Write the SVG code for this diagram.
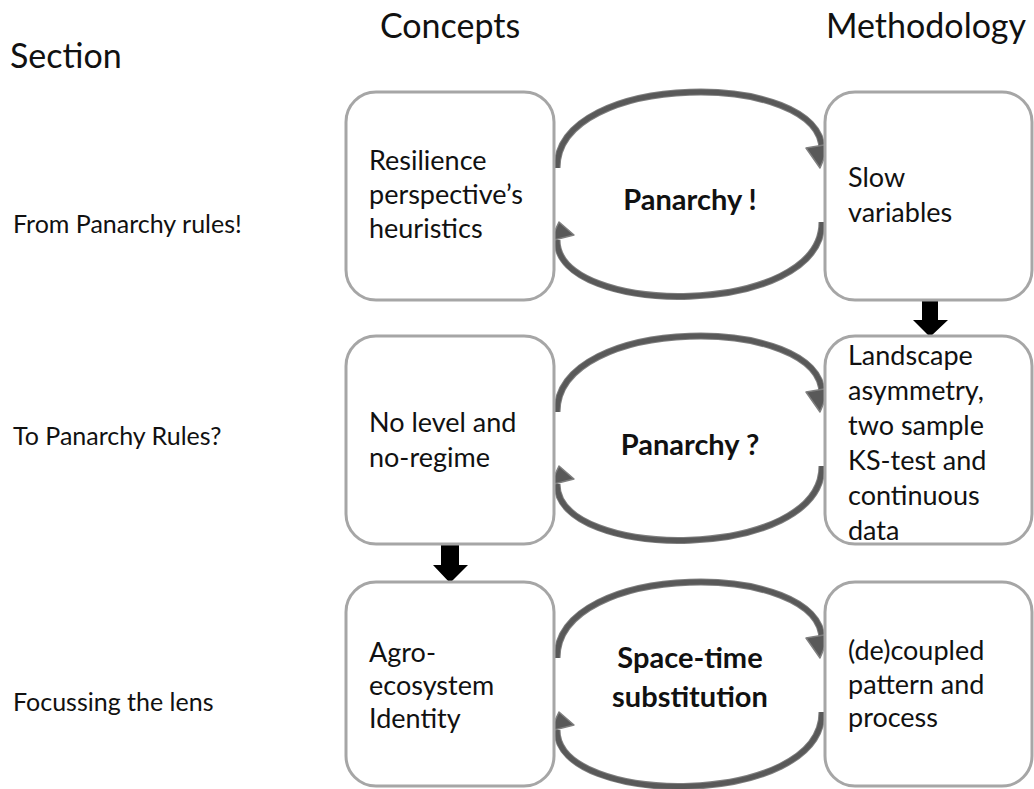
<svg xmlns="http://www.w3.org/2000/svg" width="1034" height="789" viewBox="0 0 1034 789">
<style>
text{font-family:Lato,"Open Sans","Liberation Sans",sans-serif;fill:#111}
.h{font-size:34px}
.s{font-size:25px}
.b{font-size:27px}
.c{font-size:29px;font-weight:bold;text-anchor:middle}
.box{fill:#fff;stroke:#a6a6a6;stroke-width:3}
.arcO{fill:none;stroke:#7f7f7f;stroke-width:7}
.arcI{fill:none;stroke:#595959;stroke-width:5}
.head{fill:#595959;stroke:#7f7f7f;stroke-width:1.5;stroke-linejoin:round}
.blk{fill:#000}
</style>
<defs>
<g id="cycle">
<path class="arcO" d="M557,168 C557,70 822,70 822,150"/>
<path class="arcI" d="M557,168 C557,70 822,70 822,150"/>
<path class="arcO" d="M822,222 C822,318 557,318 557,240"/>
<path class="arcI" d="M822,222 C822,318 557,318 557,240"/>
<polygon class="head" points="806,148 830,144 820,168"/>
<polygon class="head" points="550,241 574,235 559,222"/>
</g>
</defs>
<g id="headers">
<text class="h" x="10" y="68">Section</text>
<text class="h" x="450" y="38" text-anchor="middle">Concepts</text>
<text class="h" x="826" y="38">Methodology</text>
<text class="s" x="13" y="233">From Panarchy rules!</text>
<text class="s" x="13" y="445">To Panarchy Rules?</text>
<text class="s" x="13" y="711">Focussing the lens</text>
</g>
<g id="connectors">
<use href="#cycle"/>
<use href="#cycle" transform="translate(0,244)"/>
<use href="#cycle" transform="translate(0,490)"/>
<polygon class="blk" points="922,300 938,300 938,320 948,320 930,337 913,320 922,320"/>
<polygon class="blk" points="441,545 459,545 459,565 468,565 450,583 433,565 441,565"/>
</g>
<g id="n1">
<rect class="box" x="346" y="92" width="208" height="208" rx="30"/>
<text class="b" x="369" y="170">Resilience</text>
<text class="b" x="369" y="204">perspective’s</text>
<text class="b" x="369" y="238">heuristics</text>
</g>
<g id="n2">
<rect class="box" x="825" y="92" width="207" height="208" rx="30"/>
<text class="b" x="848" y="187">Slow</text>
<text class="b" x="848" y="222">variables</text>
</g>
<g id="l1"><text class="c" x="690" y="210">Panarchy !</text></g>
<g id="n3">
<rect class="box" x="346" y="336" width="208" height="208" rx="30"/>
<text class="b" x="369" y="432">No level and</text>
<text class="b" x="369" y="467">no-regime</text>
</g>
<g id="n4">
<rect class="box" x="825" y="336" width="207" height="208" rx="30"/>
<text class="b" x="848" y="365">Landscape</text>
<text class="b" x="848" y="400">asymmetry,</text>
<text class="b" x="848" y="435">two sample</text>
<text class="b" x="848" y="470">KS-test and</text>
<text class="b" x="848" y="505">continuous</text>
<text class="b" x="848" y="540">data</text>
</g>
<g id="l2"><text class="c" x="690" y="455">Panarchy ?</text></g>
<g id="n5">
<rect class="box" x="346" y="582" width="208" height="204" rx="30"/>
<text class="b" x="369" y="662">Agro-</text>
<text class="b" x="369" y="695">ecosystem</text>
<text class="b" x="369" y="728">Identity</text>
</g>
<g id="n6">
<rect class="box" x="825" y="582" width="207" height="204" rx="30"/>
<text class="b" x="848" y="660">(de)coupled</text>
<text class="b" x="848" y="694">pattern and</text>
<text class="b" x="848" y="727">process</text>
</g>
<g id="l3">
<text class="c" x="690" y="668">Space-time</text>
<text class="c" x="690" y="707">substitution</text>
</g>
</svg>
